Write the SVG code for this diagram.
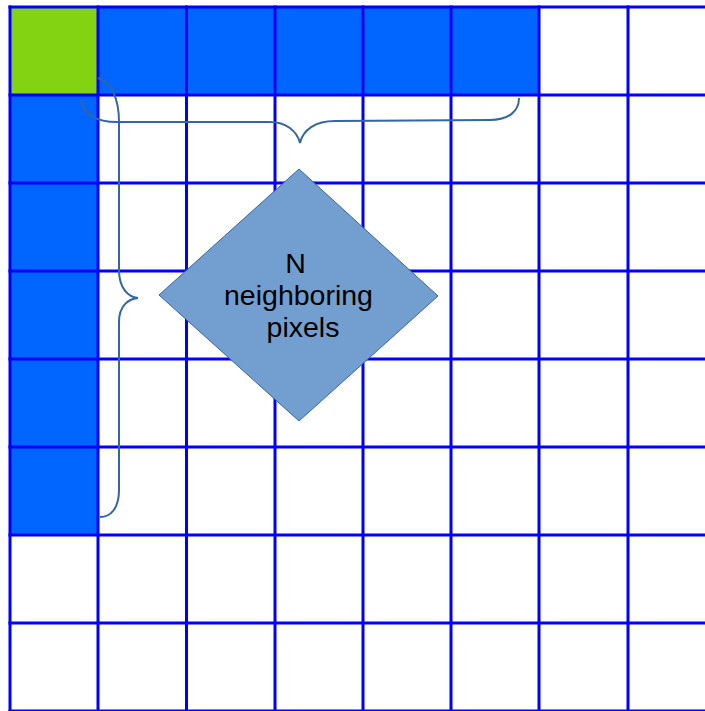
<svg xmlns="http://www.w3.org/2000/svg" width="705" height="711" viewBox="0 0 705 711">
<style>
.cell-g{fill:#83d313}
.cell-b{fill:#0066ff}
.grid line{stroke:#0000ff;stroke-width:3}
.brace{fill:none;stroke:#3465a4;stroke-width:2}
.lbl{font-family:"Liberation Sans",Arial,sans-serif;font-size:28.5px;fill:#000;text-anchor:middle}
</style>
<rect width="705" height="711" fill="#ffffff"/>
<g id="cells">
<rect class="cell-g" x="10" y="7" width="88" height="88"/>
<rect class="cell-b" x="98" y="7" width="441" height="88"/>
<rect class="cell-b" x="10" y="95" width="88" height="440"/>
</g>
<g id="grid" class="grid">
<line x1="10" y1="5.5" x2="10" y2="711"/>
<line x1="98" y1="5.5" x2="98" y2="711"/>
<line x1="186.5" y1="5.5" x2="186.5" y2="711"/>
<line x1="275" y1="5.5" x2="275" y2="711"/>
<line x1="363" y1="5.5" x2="363" y2="711"/>
<line x1="451" y1="5.5" x2="451" y2="711"/>
<line x1="539" y1="5.5" x2="539" y2="711"/>
<line x1="628" y1="5.5" x2="628" y2="711"/>
<line x1="8.5" y1="7" x2="705" y2="7"/>
<line x1="8.5" y1="95" x2="705" y2="95"/>
<line x1="8.5" y1="183" x2="705" y2="183"/>
<line x1="8.5" y1="271" x2="705" y2="271"/>
<line x1="8.5" y1="359" x2="705" y2="359"/>
<line x1="8.5" y1="447" x2="705" y2="447"/>
<line x1="8.5" y1="535" x2="705" y2="535"/>
<line x1="8.5" y1="623" x2="705" y2="623"/>
<line x1="8.5" y1="711" x2="705" y2="711"/>
</g>
<g id="connectors">
<path class="brace" d="M81,100 C84,114 96,122 117,122 L270,122 C286,122 297,131 300,143 C303,130 315,121 335,121 L490,120 C509,120 519,111 519,98"/>
<path class="brace" d="M98,78 C111,82 119,98 119,122 L119,270 C119,288 128,297 138,298 C128,299 119,306 119,322 L119,490 C119,508 111,517 100,517"/>
</g>
<g id="diamond">
<polygon points="299,169 438,296 299,421 159,295" fill="#729fcf" stroke="#3465a4" stroke-width="1"/>
<text class="lbl" x="295.5" y="273">N</text>
<text class="lbl" x="298.5" y="305">neighboring</text>
<text class="lbl" x="303" y="337">pixels</text>
</g>
</svg>
